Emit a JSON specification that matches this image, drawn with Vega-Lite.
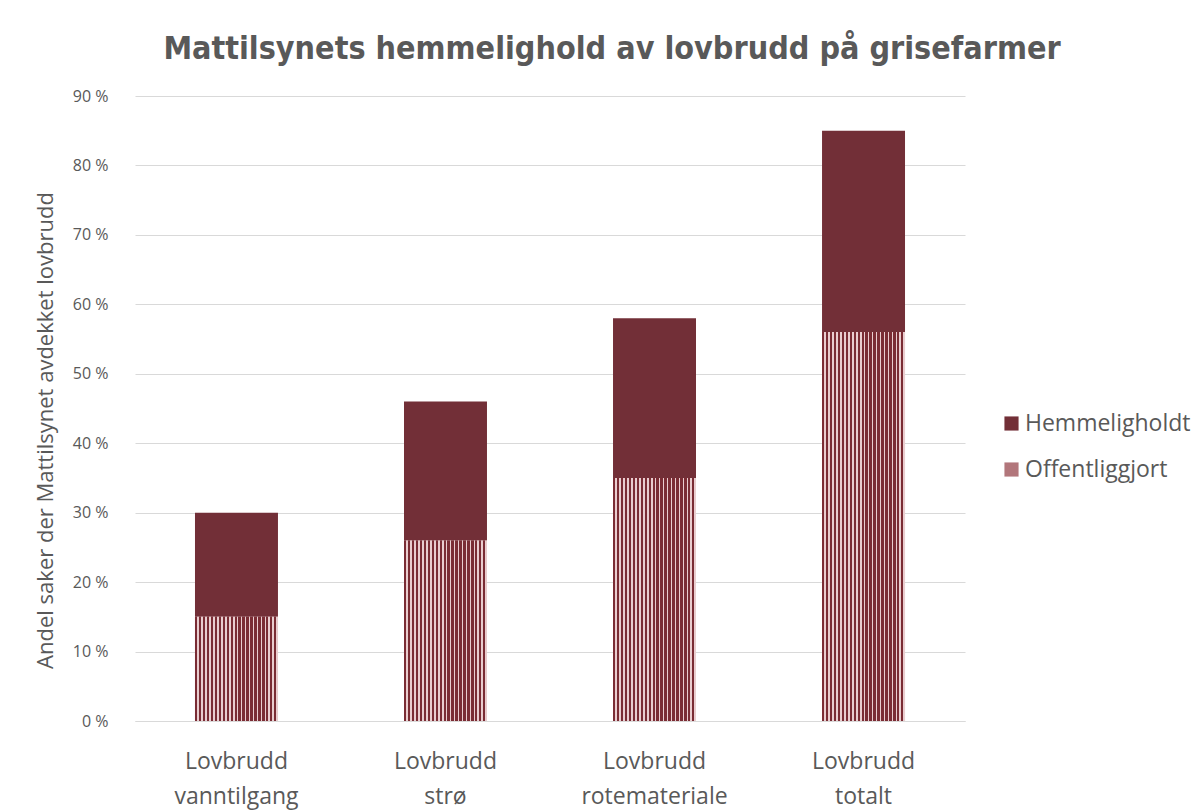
{
  "$schema": "https://vega.github.io/schema/vega-lite/v6.json",
  "width": 830,
  "height": 625,
  "autosize": {"type": "none"},
  "padding": {"left": 135, "top": 96, "right": 238, "bottom": 91},
  "background": "white",
  "title": {
    "text": "Mattilsynets hemmelighold av lovbrudd på grisefarmer",
    "font": "DejaVu Sans Condensed",
    "fontWeight": "bold",
    "fontSize": 32,
    "color": "#595959",
    "anchor": "middle",
    "dx": 62,
    "offset": 22
  },
  "data": {
    "values": [
      {"kategori": "Lovbrudd vanntilgang", "type": "Offentliggjort", "ord": 1, "andel": 15},
      {"kategori": "Lovbrudd vanntilgang", "type": "Hemmeligholdt", "ord": 2, "andel": 15},
      {"kategori": "Lovbrudd strø", "type": "Offentliggjort", "ord": 1, "andel": 26},
      {"kategori": "Lovbrudd strø", "type": "Hemmeligholdt", "ord": 2, "andel": 20},
      {"kategori": "Lovbrudd rotemateriale", "type": "Offentliggjort", "ord": 1, "andel": 35},
      {"kategori": "Lovbrudd rotemateriale", "type": "Hemmeligholdt", "ord": 2, "andel": 23},
      {"kategori": "Lovbrudd totalt", "type": "Offentliggjort", "ord": 1, "andel": 56},
      {"kategori": "Lovbrudd totalt", "type": "Hemmeligholdt", "ord": 2, "andel": 29}
    ]
  },
  "encoding": {
    "x": {
      "field": "kategori",
      "type": "nominal",
      "sort": null,
      "scale": {"paddingInner": 0.603, "paddingOuter": 0.287},
      "axis": {
        "title": null,
        "labelAngle": 0,
        "labelExpr": "split(datum.label, ' ')",
        "labelFont": "Open Sans",
        "labelFontSize": 23,
        "labelColor": "#595959",
        "labelLineHeight": 35,
        "labelPadding": 29,
        "ticks": false,
        "domainColor": "#d9d9d9",
        "grid": false
      }
    },
    "y": {
      "field": "andel",
      "type": "quantitative",
      "stack": "zero",
      "scale": {"domain": [0, 90]},
      "axis": {
        "values": [0, 10, 20, 30, 40, 50, 60, 70, 80, 90],
        "labelExpr": "datum.value + ' %'",
        "labelFont": "Open Sans",
        "labelFontSize": 16,
        "labelColor": "#595959",
        "labelPadding": 27,
        "ticks": false,
        "domain": false,
        "gridColor": "#d9d9d9",
        "title": "Andel saker der Mattilsynet avdekket lovbrudd",
        "titleFont": "Open Sans",
        "titleFontWeight": "normal",
        "titleFontSize": 22,
        "titleColor": "#595959",
        "titleX": -90,
        "titleY": 334,
        "titleAngle": 270,
        "titleAlign": "center",
        "titleBaseline": "middle"
      }
    },
    "order": {"field": "ord", "type": "quantitative"}
  },
  "layer": [
    {
      "mark": {"type": "bar"},
      "encoding": {
        "color": {
          "field": "type",
          "type": "nominal",
          "scale": {
            "domain": ["Hemmeligholdt", "Offentliggjort"],
            "range": ["#722f37", "#b2767b"]
          },
          "legend": {
            "title": null,
            "orient": "none",
            "legendX": 865,
            "legendY": 316,
            "symbolType": "square",
            "symbolSize": 200,
            "symbolStrokeWidth": 0,
            "labelFont": "Open Sans",
            "labelFontSize": 23,
            "labelColor": "#595959",
            "labelOffset": 2,
            "labelLimit": 400,
            "rowPadding": 22,
            "encode": {
              "symbols": {
                "update": {
                  "fill": {"signal": "datum.value === 'Offentliggjort' ? {gradient: 'linear', x1: 0, y1: 0, x2: 1, y2: 0, stops: [{offset: 0, color: '#7a2c34'}, {offset: 0.15, color: '#7a2c34'}, {offset: 0.15, color: '#e9cdcf'}, {offset: 0.25, color: '#e9cdcf'}, {offset: 0.25, color: '#7a2c34'}, {offset: 0.4, color: '#7a2c34'}, {offset: 0.4, color: '#e9cdcf'}, {offset: 0.5, color: '#e9cdcf'}, {offset: 0.5, color: '#7a2c34'}, {offset: 0.65, color: '#7a2c34'}, {offset: 0.65, color: '#e9cdcf'}, {offset: 0.75, color: '#e9cdcf'}, {offset: 0.75, color: '#7a2c34'}, {offset: 0.9, color: '#7a2c34'}, {offset: 0.9, color: '#e9cdcf'}, {offset: 1, color: '#e9cdcf'}]} : '#722f37'"}
                }
              }
            }
          }
        }
      }
    },
    {
      "transform": [{"filter": "datum.type === 'Offentliggjort'"}],
      "mark": {
        "type": "bar",
        "fill": {
          "gradient": "linear", "x1": 0, "y1": 0, "x2": 1, "y2": 0,
          "stops": [
            {"offset": 0, "color": "#7a2c34"}, {"offset": 0.0286, "color": "#7a2c34"}, {"offset": 0.0286, "color": "#e9cdcf"}, {"offset": 0.0476, "color": "#e9cdcf"},
            {"offset": 0.0476, "color": "#7a2c34"}, {"offset": 0.0762, "color": "#7a2c34"}, {"offset": 0.0762, "color": "#e9cdcf"}, {"offset": 0.0952, "color": "#e9cdcf"},
            {"offset": 0.0952, "color": "#7a2c34"}, {"offset": 0.1238, "color": "#7a2c34"}, {"offset": 0.1238, "color": "#e9cdcf"}, {"offset": 0.1429, "color": "#e9cdcf"},
            {"offset": 0.1429, "color": "#7a2c34"}, {"offset": 0.1714, "color": "#7a2c34"}, {"offset": 0.1714, "color": "#e9cdcf"}, {"offset": 0.1905, "color": "#e9cdcf"},
            {"offset": 0.1905, "color": "#7a2c34"}, {"offset": 0.2190, "color": "#7a2c34"}, {"offset": 0.2190, "color": "#e9cdcf"}, {"offset": 0.2381, "color": "#e9cdcf"},
            {"offset": 0.2381, "color": "#7a2c34"}, {"offset": 0.2667, "color": "#7a2c34"}, {"offset": 0.2667, "color": "#e9cdcf"}, {"offset": 0.2857, "color": "#e9cdcf"},
            {"offset": 0.2857, "color": "#7a2c34"}, {"offset": 0.3143, "color": "#7a2c34"}, {"offset": 0.3143, "color": "#e9cdcf"}, {"offset": 0.3333, "color": "#e9cdcf"},
            {"offset": 0.3333, "color": "#7a2c34"}, {"offset": 0.3619, "color": "#7a2c34"}, {"offset": 0.3619, "color": "#e9cdcf"}, {"offset": 0.3810, "color": "#e9cdcf"},
            {"offset": 0.3810, "color": "#7a2c34"}, {"offset": 0.4095, "color": "#7a2c34"}, {"offset": 0.4095, "color": "#e9cdcf"}, {"offset": 0.4286, "color": "#e9cdcf"},
            {"offset": 0.4286, "color": "#7a2c34"}, {"offset": 0.4571, "color": "#7a2c34"}, {"offset": 0.4571, "color": "#e9cdcf"}, {"offset": 0.4762, "color": "#e9cdcf"},
            {"offset": 0.4762, "color": "#7a2c34"}, {"offset": 0.5048, "color": "#7a2c34"}, {"offset": 0.5048, "color": "#e9cdcf"}, {"offset": 0.5238, "color": "#e9cdcf"},
            {"offset": 0.5238, "color": "#7a2c34"}, {"offset": 0.5524, "color": "#7a2c34"}, {"offset": 0.5524, "color": "#e9cdcf"}, {"offset": 0.5714, "color": "#e9cdcf"},
            {"offset": 0.5714, "color": "#7a2c34"}, {"offset": 0.6000, "color": "#7a2c34"}, {"offset": 0.6000, "color": "#e9cdcf"}, {"offset": 0.6190, "color": "#e9cdcf"},
            {"offset": 0.6190, "color": "#7a2c34"}, {"offset": 0.6476, "color": "#7a2c34"}, {"offset": 0.6476, "color": "#e9cdcf"}, {"offset": 0.6667, "color": "#e9cdcf"},
            {"offset": 0.6667, "color": "#7a2c34"}, {"offset": 0.6952, "color": "#7a2c34"}, {"offset": 0.6952, "color": "#e9cdcf"}, {"offset": 0.7143, "color": "#e9cdcf"},
            {"offset": 0.7143, "color": "#7a2c34"}, {"offset": 0.7429, "color": "#7a2c34"}, {"offset": 0.7429, "color": "#e9cdcf"}, {"offset": 0.7619, "color": "#e9cdcf"},
            {"offset": 0.7619, "color": "#7a2c34"}, {"offset": 0.7905, "color": "#7a2c34"}, {"offset": 0.7905, "color": "#e9cdcf"}, {"offset": 0.8095, "color": "#e9cdcf"},
            {"offset": 0.8095, "color": "#7a2c34"}, {"offset": 0.8381, "color": "#7a2c34"}, {"offset": 0.8381, "color": "#e9cdcf"}, {"offset": 0.8571, "color": "#e9cdcf"},
            {"offset": 0.8571, "color": "#7a2c34"}, {"offset": 0.8857, "color": "#7a2c34"}, {"offset": 0.8857, "color": "#e9cdcf"}, {"offset": 0.9048, "color": "#e9cdcf"},
            {"offset": 0.9048, "color": "#7a2c34"}, {"offset": 0.9333, "color": "#7a2c34"}, {"offset": 0.9333, "color": "#e9cdcf"}, {"offset": 0.9524, "color": "#e9cdcf"},
            {"offset": 0.9524, "color": "#7a2c34"}, {"offset": 0.9810, "color": "#7a2c34"}, {"offset": 0.9810, "color": "#e9cdcf"}, {"offset": 1.0, "color": "#e9cdcf"}
          ]
        }
      }
    }
  ],
  "config": {
    "view": {"stroke": null}
  }
}
